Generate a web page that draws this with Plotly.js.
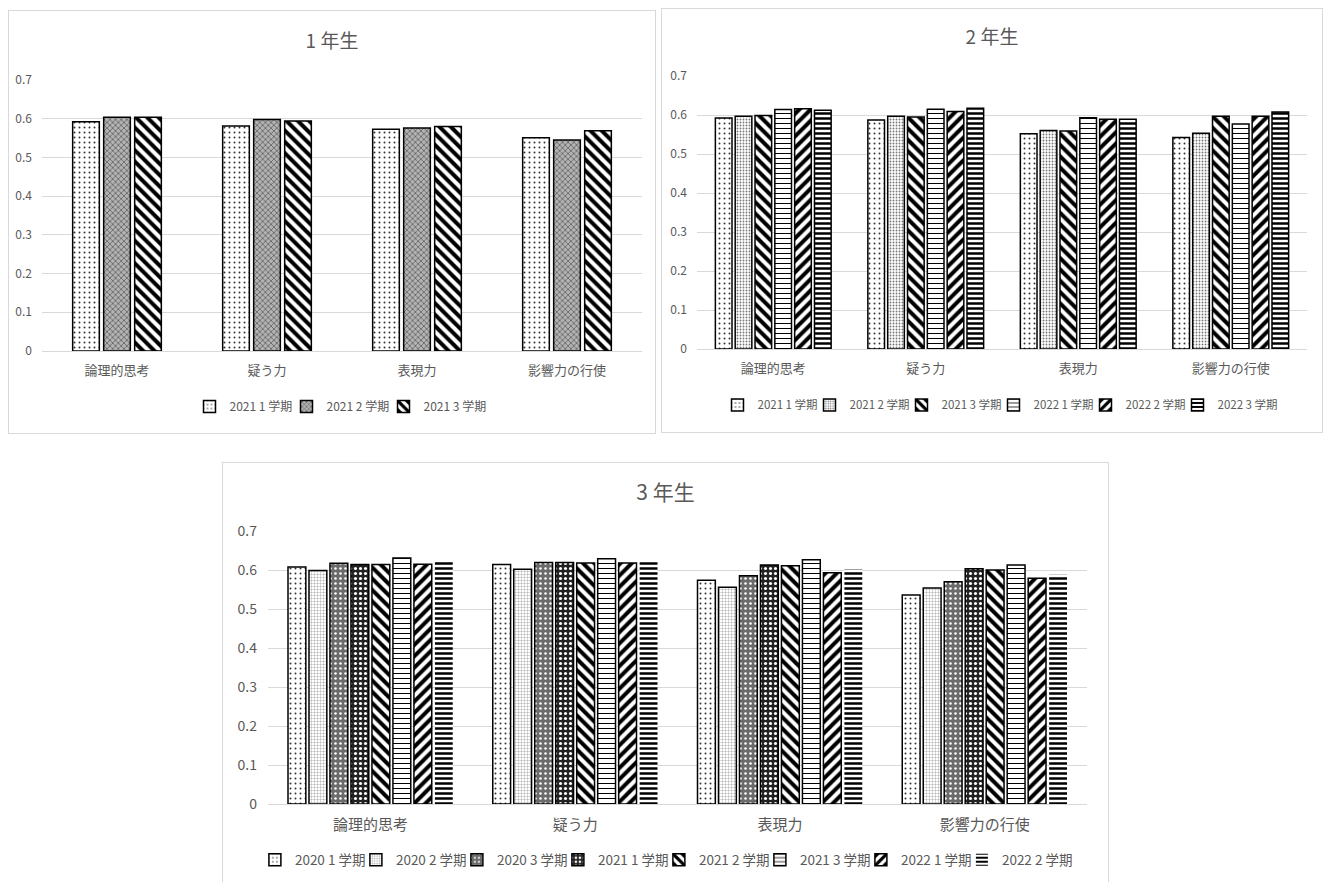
<!DOCTYPE html>
<html>
<head>
<meta charset="utf-8">
<script src="https://cdn.plot.ly/plotly-3.0.1.min.js"></script>
<style>
  html, body { margin: 0; padding: 0; background: #ffffff; }
  body { width: 1324px; height: 882px; position: relative; overflow: hidden; }
  .panel { position: absolute; background: #ffffff; border: 1px solid #d9d9d9; box-sizing: border-box; }
  #g1 { left: 8px; top: 10px; width: 648px; height: 424px; }
  #g2 { left: 661px; top: 8px; width: 662px; height: 425px; }
  #g3 { left: 222px; top: 462px; width: 887px; height: 430px; }
</style>
</head>
<body>
<div id="g1" class="panel"></div>
<div id="g2" class="panel"></div>
<div id="g3" class="panel"></div>
<script>
// Skill categories shared by all three grade charts
const categories = ['論理的思考', '疑う力', '表現力', '影響力の行使'];

// Grade 1 (1年生)
const grade1Terms = ['2021 1 学期', '2021 2 学期', '2021 3 学期'];
const g1_2021_t1 = [0.592, 0.581, 0.573, 0.551];
const g1_2021_t2 = [0.604, 0.598, 0.576, 0.545];
const g1_2021_t3 = [0.604, 0.594, 0.580, 0.569];

// Grade 2 (2年生)
const grade2Terms = ['2021 1 学期', '2021 2 学期', '2021 3 学期', '2022 1 学期', '2022 2 学期', '2022 3 学期'];
const g2_2021_t1 = [0.592, 0.587, 0.552, 0.542];
const g2_2021_t2 = [0.597, 0.597, 0.560, 0.553];
const g2_2021_t3 = [0.599, 0.595, 0.559, 0.597];
const g2_2022_t1 = [0.614, 0.615, 0.593, 0.577];
const g2_2022_t2 = [0.616, 0.609, 0.589, 0.597];
const g2_2022_t3 = [0.612, 0.617, 0.589, 0.608];

// Grade 3 (3年生)
const grade3Terms = ['2020 1 学期', '2020 2 学期', '2020 3 学期', '2021 1 学期', '2021 2 学期', '2021 3 学期', '2022 1 学期', '2022 2 学期'];
const g3_2020_t1 = [0.608, 0.614, 0.574, 0.536];
const g3_2020_t2 = [0.599, 0.602, 0.556, 0.554];
const g3_2020_t3 = [0.617, 0.619, 0.585, 0.570];
const g3_2021_t1 = [0.614, 0.619, 0.613, 0.603];
const g3_2021_t2 = [0.614, 0.618, 0.611, 0.600];
const g3_2021_t3 = [0.631, 0.629, 0.626, 0.613];
const g3_2022_t1 = [0.615, 0.618, 0.593, 0.579];
const g3_2022_t2 = [0.624, 0.624, 0.601, 0.588];

const FONT = '"Noto Sans CJK JP", "Noto Sans", sans-serif';
const TEXT = '#595959';
const GRID = '#d9d9d9';

// Monochrome fill patterns, one per term
const PAT = {
  dotsSparse: { shape: '.', size: 5, solidity: 0.12, fgcolor: '#333', bg: '#ffffff' },
  dotsFine:   { shape: '.', size: 3, solidity: 0.3, fgcolor: '#777', bg: '#ffffff' },
  checker:    { shape: 'x', size: 4, solidity: 0.3, fgcolor: '#4d4d4d', bg: '#b3b3b3' },
  gridFine:   { shape: '+', size: 3, solidity: 0.25, fgcolor: '#9a9a9a', bg: '#ffffff' },
  darkDots:   { shape: '.', size: 5, solidity: 0.2, fgcolor: '#ffffff', bg: '#6b6b6b' },
  blackDots:  { shape: '.', size: 5, solidity: 0.3, fgcolor: '#ffffff', bg: '#222222' },
  back:       { shape: '\\', size: 8, solidity: 0.5, fgcolor: '#000', bg: '#ffffff' },
  fwd:        { shape: '/', size: 8, solidity: 0.5, fgcolor: '#000', bg: '#ffffff' },
  hThin:      { shape: '-', size: 5, solidity: 0.2, fgcolor: '#000', bg: '#ffffff' },
  hThick:     { shape: '-', size: 5, solidity: 0.5, fgcolor: '#000', bg: '#ffffff' }
};

function barTrace(name, values, p, extra) {
  extra = extra || {};
  const t = {
    type: 'bar',
    name: name,
    x: categories,
    y: values,
    marker: {
      color: p.bg,
      line: { color: '#000000', width: extra.noOutline ? 0 : 1.5 },
      pattern: {
        shape: p.shape, size: p.size, solidity: p.solidity,
        fgcolor: p.fgcolor, fgopacity: 1, fillmode: 'overlay'
      }
    },
    hoverinfo: 'skip'
  };
  if (extra.legendwidth) t.legendwidth = extra.legendwidth;
  return t;
}

function makeLayout(opts) {
  return {
    width: opts.w,
    height: opts.h,
    margin: opts.margin,
    paper_bgcolor: 'rgba(0,0,0,0)',
    plot_bgcolor: 'rgba(0,0,0,0)',
    font: { family: FONT, color: TEXT, size: opts.tick },
    title: {
      text: opts.title,
      x: 0.5, xanchor: 'center',
      y: opts.titleY, yanchor: 'middle', yref: 'container',
      font: { family: FONT, color: TEXT, size: opts.titleSize }
    },
    barmode: 'group',
    bargap: opts.bargap,
    bargroupgap: opts.bargroupgap,
    xaxis: {
      type: 'category',
      showgrid: false,
      showline: false,
      ticks: '',
      ticklabelstandoff: opts.catStandoff,
      tickfont: { family: FONT, color: TEXT, size: opts.catSize },
      fixedrange: true
    },
    yaxis: {
      range: [0, 0.7],
      dtick: 0.1,
      tick0: 0,
      showgrid: true,
      gridcolor: GRID,
      gridwidth: 1,
      zeroline: true,
      zerolinecolor: GRID,
      zerolinewidth: 1,
      showline: false,
      ticks: '',
      ticklabelstandoff: opts.yStandoff,
      tickfont: { family: FONT, color: TEXT, size: opts.tick },
      fixedrange: true
    },
    showlegend: true,
    legend: {
      orientation: 'h',
      x: opts.legendX, xanchor: opts.legendAnchor, xref: 'paper',
      y: opts.legendY, yanchor: 'middle', yref: 'paper',
      font: { family: FONT, color: TEXT, size: opts.legendSize },
      entrywidth: opts.entry,
      entrywidthmode: 'pixels',
      itemwidth: 30,
      traceorder: 'normal',
      bgcolor: 'rgba(0,0,0,0)'
    }
  };
}

const config = { displayModeBar: false, staticPlot: true };

// 1年生
Plotly.newPlot('g1', [
  barTrace(grade1Terms[0], g1_2021_t1, PAT.dotsSparse),
  barTrace(grade1Terms[1], g1_2021_t2, PAT.checker),
  barTrace(grade1Terms[2], g1_2021_t3, PAT.back, { legendwidth: 66 })
], makeLayout({
  w: 646, h: 422, margin: { l: 33, r: 13, t: 69, b: 79 },
  title: '1 年生', titleY: 0.927, titleSize: 19,
  bargap: 0.38, bargroupgap: 0.14,
  tick: 12, catSize: 13, catStandoff: 10, yStandoff: 9,
  legendX: 0.5, legendAnchor: 'center', legendY: -0.205, legendSize: 12, entry: 52
}), config);

// 2年生
Plotly.newPlot('g2', [
  barTrace(grade2Terms[0], g2_2021_t1, PAT.dotsSparse),
  barTrace(grade2Terms[1], g2_2021_t2, PAT.dotsFine),
  barTrace(grade2Terms[2], g2_2021_t3, PAT.back),
  barTrace(grade2Terms[3], g2_2022_t1, PAT.hThin),
  barTrace(grade2Terms[4], g2_2022_t2, PAT.fwd),
  barTrace(grade2Terms[5], g2_2022_t3, PAT.hThick, { legendwidth: 64 })
], makeLayout({
  w: 660, h: 423, margin: { l: 35, r: 15, t: 67, b: 80 },
  title: '2 年生', titleY: 0.932, titleSize: 19,
  bargap: 0.22, bargroupgap: 0.16,
  tick: 12, catSize: 13, catStandoff: 10, yStandoff: 9,
  legendX: 0.5, legendAnchor: 'center', legendY: -0.205, legendSize: 11.5, entry: 47
}), config);

// 3年生
Plotly.newPlot('g3', [
  barTrace(grade3Terms[0], g3_2020_t1, PAT.dotsSparse),
  barTrace(grade3Terms[1], g3_2020_t2, PAT.gridFine),
  barTrace(grade3Terms[2], g3_2020_t3, PAT.darkDots),
  barTrace(grade3Terms[3], g3_2021_t1, PAT.blackDots),
  barTrace(grade3Terms[4], g3_2021_t2, PAT.back),
  barTrace(grade3Terms[5], g3_2021_t3, PAT.hThin),
  barTrace(grade3Terms[6], g3_2022_t1, PAT.fwd),
  barTrace(grade3Terms[7], g3_2022_t2, PAT.hThick, { noOutline: true, legendwidth: 76 })
], makeLayout({
  w: 885, h: 428, margin: { l: 45, r: 21, t: 68, b: 87 },
  title: '3 年生', titleY: 0.93, titleSize: 21,
  bargap: 0.18, bargroupgap: 0.15,
  tick: 14, catSize: 15, catStandoff: 10, yStandoff: 10,
  legendX: -0.016, legendAnchor: 'left', legendY: -0.205, legendSize: 13.5, entry: 56
}), config);
</script>
</body>
</html>
